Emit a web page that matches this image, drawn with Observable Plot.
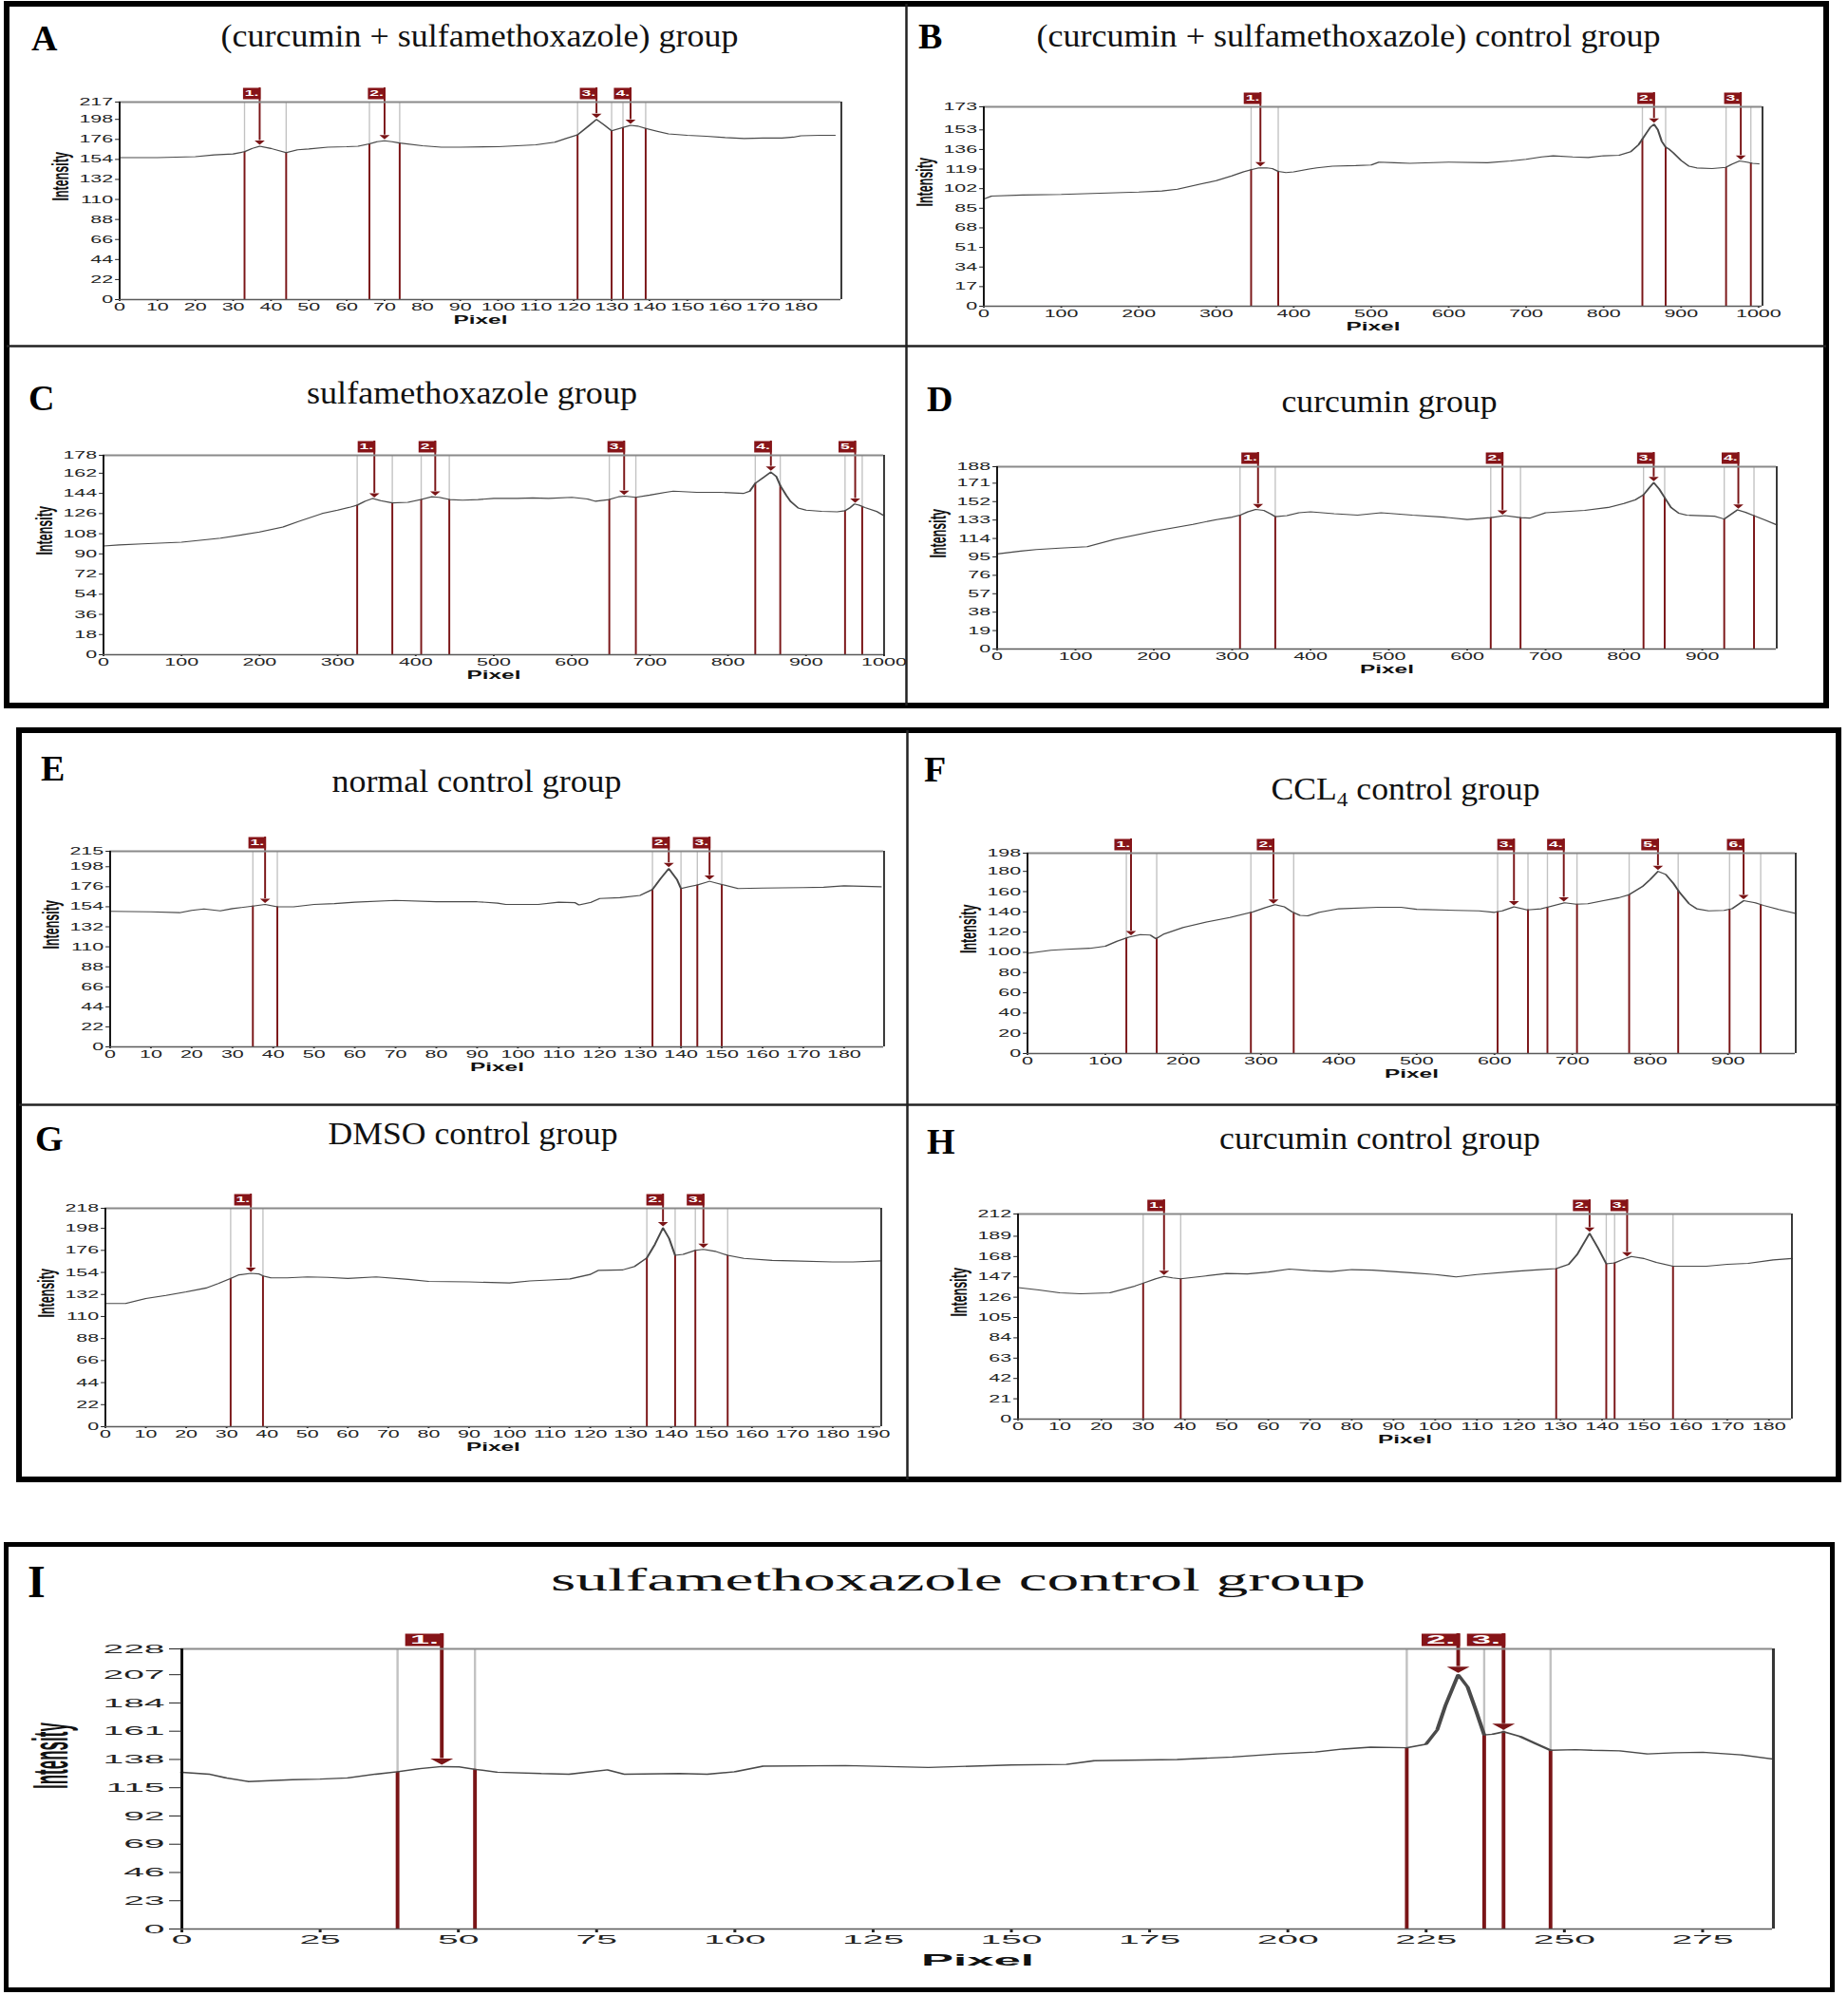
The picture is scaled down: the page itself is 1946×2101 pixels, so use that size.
<!DOCTYPE html>
<html><head><meta charset="utf-8">
<script src="https://cdn.jsdelivr.net/npm/d3@7"></script>
<script src="https://cdn.jsdelivr.net/npm/@observablehq/plot@0.6"></script>
<style>
html,body{margin:0;padding:0;background:#fff;}
#page{position:relative;width:1946px;height:2101px;overflow:hidden;background:#fff;}
.panel{position:absolute;transform-origin:0 0;}
.panel svg{overflow:visible;max-width:none;background:transparent;}
#deco{position:absolute;left:0;top:0;}
</style></head>
<body><div id="page"><svg id="deco" width="1946" height="2101"></svg></div>
<script>
// ---------------- DATA ----------------
// Panel A : (curcumin + sulfamethoxazole) group
const aPx  = [0,10,20,25,30,33,35,37,40,44,47,50,55,60,63,66,68,70,72,74,80,85,90,100,105,110,115,118,121,124,126,128,130,133,135,137,139,142,145,150,155,160,165,170,175,178,180,185,189];
const aInt = [156,156,157,159,160,162.5,166,168.5,166,161.5,164.5,165.5,167.5,168,168.5,171,173.5,174.5,173.5,172,169,167.5,167.5,168,169,170,173,177,181,191,198,192,185.5,189,191.5,190.5,188,185,182,180.5,179.5,178,177,177.5,177.5,178.5,180,180.5,180.5];
const aStart = [33,66,121,133];
const aEnd   = [44,74,130,139];
const aPeak  = [37,70,126,135];
const aYT = [0,22,44,66,88,110,132,154,176,198,217];
const aXT = [0,10,20,30,40,50,60,70,80,90,100,110,120,130,140,150,160,170,180];
const aXMax = 190.7;

// Panel B : (curcumin + sulfamethoxazole) control group
const bPx  = [0,10,50,100,150,200,230,250,280,300,320,335,345,355,365,372,380,390,400,420,430,450,480,500,510,530,550,600,650,680,700,720,735,760,780,800,820,835,845,850,855,860,865,870,875,880,885,890,900,910,920,940,958,965,975,985,992,1000];
const bInt = [93,95.5,96.5,97,98,99,100,101.5,106,109,113,116.5,118.5,120,120,119.5,117,116,116.5,119,120,121.5,122,122.5,125,124.5,124,125,124.5,126,127.5,129.5,130.5,129.5,129,130.5,131,134,140,145,150,155,158,153,143,138,136,133,126.5,121.5,120,119.5,120.5,123,126,125,124,123.5];
const bStart = [345,850,958];
const bEnd   = [380,880,990];
const bPeak  = [357,865,977];
const bYT = [0,17,34,51,68,85,102,119,136,153,173];
const bXT = [0,100,200,300,400,500,600,700,800,900,1000];
const bXMax = 1005;

// Panel C : sulfamethoxazole group
const cPx  = [0,20,50,100,150,200,230,250,280,300,315,325,335,345,355,370,390,400,407,420,430,443,460,480,500,530,550,570,600,620,630,648,660,668,682,700,720,730,760,790,820,828,835,845,855,862,867,875,880,890,900,920,940,950,956,962,968,975,990,1000];
const cInt = [97,98,99,100.5,104,109.5,114,119,126,129,131.5,133.5,137,139.5,137.5,135.5,136,137.5,138.5,141,140.5,138.5,138,138.5,139.5,139.5,140,139.5,140.5,139,137,138.5,141,141.5,140.5,142.5,145,146,145,145,144,146,153,158,163,159,151,142,137,131,129,128,127.5,128.5,131,134.5,133.5,131.5,128,124];
const cStart = [325,407,648,835,950];
const cEnd   = [370,443,682,867,972];
const cPeak  = [347,425,667,855,963];
const cYT = [0,18,36,54,72,90,108,126,144,162,178];
const cXT = [0,100,200,300,400,500,600,700,800,900,1000];
const cXMax = 1000;

// Panel D : curcumin group
const dPx  = [0,30,50,80,115,150,200,250,280,300,310,320,330,340,350,355,370,385,400,430,460,490,530,570,600,630,648,668,680,700,750,780,800,815,825,832,838,845,852,860,870,880,915,928,935,945,955,966,980,995];
const dInt = [98,101,102.5,104,105.5,113,121.5,128.5,133.5,136,138,141.5,144,143,139,136.5,137.5,140.5,141.5,139.5,138,140.5,138,136,133.5,135.5,137.5,135.5,135,140.5,143,146,150,154,159,166,171.5,165,156,146,140,138,137,134,138,143.5,141,137.5,133,128];
const dStart = [310,630,825,928];
const dEnd   = [355,668,852,966];
const dPeak  = [333,645,838,946];
const dYT = [0,19,38,57,76,95,114,133,152,171,188];
const dXT = [0,100,200,300,400,500,600,700,800,900];
const dXMax = 995;

// Panel E : normal control group
const ePx  = [0,10,17,20,23,27,30,35,38,41,45,50,55,60,70,80,90,95,97,105,110,114,115,118,120,125,130,133,135,137,139,140,142,144,147,150,154,160,170,175,180,189];
const eInt = [149,148.5,147.5,150,151.5,149.5,152,154.8,156.5,154,154,156.5,157.5,159,161,159.5,159.5,158,156.5,156.5,159,158.5,156,159,163,164,166.5,173,185,196,184,174,176,178,182,178.5,174,174.5,175,175.5,177,176];
const eStart = [35,133,144];
const eEnd   = [41,140,150];
const ePeak  = [38,137,147];
const eYT = [0,22,44,66,88,110,132,154,176,198,215];
const eXT = [0,10,20,30,40,50,60,70,80,90,100,110,120,130,140,150,160,170,180];
const eXMax = 189.8;

// Panel F : CCL4 control group
const fPx  = [0,30,50,80,100,115,130,145,158,165,175,200,230,260,290,305,318,330,340,350,360,375,400,450,480,500,550,580,600,610,625,642,660,670,690,705,720,740,760,773,790,800,810,820,830,838,850,860,875,895,905,920,935,945,965,987];
const fInt = [99,102,103,104,106,111,115,117.5,117,113.5,118,124.5,130,134.5,140,144,147,145,140,136.5,136,139.5,143,144.5,144.5,142.5,141.5,141,139.5,141,145,142,143,145,149,147.5,148,151,154,157,165,172,180,177,168,159,148,143,141,141.5,143,151,149,146.5,142.5,138.5];
const fStart = [127,287,604,668,773,902];
const fEnd   = [166,342,643,706,836,942];
const fPeak  = [133,316,625,689,810,920];
const fYT = [0,20,40,60,80,100,120,140,160,180,198];
const fXT = [0,100,200,300,400,500,600,700,800,900];
const fXMax = 987;

// Panel G : DMSO control group
const gPx  = [0,5,10,15,20,25,28,31,33,36,38,39,41,45,50,55,60,67,75,80,90,100,105,110,115,120,122,128,131,134,136,138,139.5,141,143,146,148,151,154,158,165,170,180,185,192];
const gInt = [123,123,128,131,134.5,138.5,143,148,151.5,153,152.5,150.5,148.5,148.5,149.5,149,148,149.5,147,145,144.5,143.5,145.5,146.5,147.5,152,156,156.5,160,168.5,182,198.5,188,171,172,176,177,175,171,168,166,165.5,164.5,164.5,165.5];
const gStart = [31,134,146];
const gEnd   = [39,141,154];
const gPeak  = [36,138,148];
const gYT = [0,22,44,66,88,110,132,154,176,198,218];
const gXT = [0,10,20,30,40,50,60,70,80,90,100,110,120,130,140,150,160,170,180,190];
const gXMax = 192;

// Panel H : curcumin control group
const hPx  = [0,5,10,15,22,25,28,30,33,35,37,39,45,50,55,60,65,70,75,80,85,90,95,100,105,110,120,125,129,132,134,137,139,141,143,145,147,150,153,157,165,170,175,181,185.5];
const hInt = [136,133.5,130.5,129.5,130.5,134,137.5,140.5,145,147.5,146,145,148,150.5,150,152,155,153.5,152.5,154.5,154,152.5,151,149.5,147,149.5,153,154.5,155.5,160,170,192,177,160.5,161.5,165,168,166,162,158,158,160,161,164.5,166];
const hStart = [30,129,143];
const hEnd   = [39,141,157];
const hPeak  = [35,137,146];
const hYT = [0,21,42,63,84,105,126,147,168,189,212];
const hXT = [0,10,20,30,40,50,60,70,80,90,100,110,120,130,140,150,160,170,180];
const hXMax = 185.5;

// Panel I : sulfamethoxazole control group
const iPx  = [0,5,8,12,20,25,30,35,39,43,47,50,53,57,65,70,77,80,90,95,100,105,120,135,150,160,165,180,190,198,205,210,215,221.5,225,227,228.5,230.8,232.5,234,235.5,237,239,242,245,247.5,252,255,260,265,270,275,282,287.5];
const iInt = [127.5,126,123,120,121.5,122,123,126,128,130.5,132.2,132,130,127.6,126.5,126,129.5,126,126.5,126,128,132.5,133,131.5,133.5,134,137,138,140,142.5,144,146.5,148,147.5,150.5,162,182,207,197,178,158,158.5,160.5,156.7,150.5,145.5,146,145.5,145,142.5,143.5,143.8,141.7,138.5];
const iStart = [39,221.5,239];
const iEnd   = [53,235.5,247.5];
const iPeak  = [47,230.8,239];
const iYT = [0,23,46,69,92,115,138,161,184,207,228];
const iXT = [0,25,50,75,100,125,150,175,200,225,250,275];
const iXMax = 287.8;

const titleA = "(curcumin + sulfamethoxazole) group";
const titleB = "(curcumin + sulfamethoxazole) control group";
const titleC = "sulfamethoxazole group";
const titleD = "curcumin group";
const titleE = "normal control group";
const titleF = ["CCL", "4", " control group"];
const titleG = "DMSO control group";
const titleH = "curcumin control group";
const titleI = "sulfamethoxazole control group";

// ---------------- LAYOUT & STYLE ----------------
const RED = "#7a1517", BOX = "#861418";
const stAH = {s:1.95, tickFont:11, labelFont:12.5, tickSize:2, tickPad:1.5, boxW:9.5, boxH:12, boxFont:9, gap:3,
  headW:5.5, headH:4.5, headGap:1.5, intDx:-31.8, pixDy:26, curveW:1.1, redW:1, grayW:0.7, padL:100, padR:25, padT:30, padB:50};
const stI = {s:3.0, tickFont:13, labelFont:17, tickSize:4, tickPad:2, boxW:13.5, boxH:13, boxFont:12, gap:3,
  headW:8, headH:6.5, headGap:2, intDx:-45.7, pixDy:39, curveW:1.4, redW:1.3, grayW:0.8, padL:175, padR:25, padT:32, padB:56};

const panels = [
  {k:"A", px:aPx, iy:aInt, start:aStart, end:aEnd, peak:aPeak, yT:aYT, xT:aXT, xMax:aXMax, st:stAH, fL:125, fR:885, fT:107, fB:315,
   title:titleA, tx:505, ty:49, tw:545, lx:33, ly:53},
  {k:"B", px:bPx, iy:bInt, start:bStart, end:bEnd, peak:bPeak, yT:bYT, xT:bXT, xMax:bXMax, st:stAH, fL:1035, fR:1855, fT:112, fB:322,
   title:titleB, tx:1420, ty:49, tw:657, lx:967, ly:51},
  {k:"C", px:cPx, iy:cInt, start:cStart, end:cEnd, peak:cPeak, yT:cYT, xT:cXT, xMax:cXMax, st:stAH, fL:108, fR:930, fT:479, fB:689,
   title:titleC, tx:497, ty:425, tw:348, lx:30, ly:432},
  {k:"D", px:dPx, iy:dInt, start:dStart, end:dEnd, peak:dPeak, yT:dYT, xT:dXT, xMax:dXMax, st:stAH, fL:1049, fR:1870, fT:491, fB:683,
   title:titleD, tx:1463, ty:434, tw:227, lx:976, ly:433},
  {k:"E", px:ePx, iy:eInt, start:eStart, end:eEnd, peak:ePeak, yT:eYT, xT:eXT, xMax:eXMax, st:stAH, fL:115, fR:930, fT:896, fB:1102,
   title:titleE, tx:502, ty:834, tw:305, lx:43, ly:822},
  {k:"F", px:fPx, iy:fInt, start:fStart, end:fEnd, peak:fPeak, yT:fYT, xT:fXT, xMax:fXMax, st:stAH, fL:1081, fR:1890, fT:898, fB:1109,
   title:titleF, tx:1480, ty:842, tw:283, lx:973, ly:823},
  {k:"G", px:gPx, iy:gInt, start:gStart, end:gEnd, peak:gPeak, yT:gYT, xT:gXT, xMax:gXMax, st:stAH, fL:110, fR:927, fT:1272, fB:1502,
   title:titleG, tx:498, ty:1205, tw:305, lx:37, ly:1212},
  {k:"H", px:hPx, iy:hInt, start:hStart, end:hEnd, peak:hPeak, yT:hYT, xT:hXT, xMax:hXMax, st:stAH, fL:1071, fR:1886, fT:1278, fB:1494,
   title:titleH, tx:1453, ty:1210, tw:338, lx:976, ly:1215},
  {k:"I", px:iPx, iy:iInt, start:iStart, end:iEnd, peak:iPeak, yT:iYT, xT:iXT, xMax:iXMax, st:stI, fL:190, fR:1866, fT:1736, fB:2031,
   title:titleI, tx:1009, ty:1675, tw:858, lx:29, ly:1682, lsize:48}
];

// ---------------- HELPERS ----------------
function valueAt(xs, ys, x) {
  const i = d3.bisectRight(xs, x);
  if (i <= 0) return ys[0];
  if (i >= xs.length) return ys[ys.length - 1];
  const x0 = xs[i - 1], x1 = xs[i];
  if (x === x0) return ys[i - 1];
  return ys[i - 1] + (x - x0) / (x1 - x0) * (ys[i] - ys[i - 1]);
}

const page = document.getElementById("page");

function makePanel(P) {
  const st = P.st, s = st.s;
  const yMax = P.yT[P.yT.length - 1];
  const curve = P.px.map((x, i) => ({x, y: P.iy[i]}));
  const bounds = P.start.concat(P.end).map(x => ({x, v: valueAt(P.px, P.iy, x)}));
  const peaks = P.peak.map((x, i) => ({x, v: valueAt(P.px, P.iy, x), n: i + 1}));
  const width = (P.fR - P.fL + st.padL + st.padR) / s;
  const height = P.fB - P.fT + st.padT + st.padB;
  const boxSym = {draw(ctx) { ctx.rect(-st.boxW / 2, -st.boxH / 2, st.boxW, st.boxH); }};
  const headSym = {draw(ctx) { ctx.moveTo(-st.headW / 2, -st.headH); ctx.lineTo(st.headW / 2, -st.headH); ctx.lineTo(0, 0); ctx.closePath(); }};
  const bdx = -st.boxW / 2 + st.redW / 2, bdy = -(st.gap + st.boxH / 2);
  const chart = Plot.plot({
    width, height,
    marginLeft: st.padL / s, marginRight: st.padR / s, marginTop: st.padT, marginBottom: st.padB,
    style: {fontFamily: "'Liberation Sans', Arial, sans-serif", fontSize: st.tickFont + "px", color: "#222", background: "transparent", overflow: "visible"},
    x: {domain: [0, P.xMax], ticks: P.xT, tickSize: st.tickSize, tickPadding: st.tickPad, tickFormat: d => String(d), label: null},
    y: {domain: [0, yMax], ticks: P.yT, tickSize: st.tickSize, tickPadding: st.tickPad, tickFormat: d => String(d), label: null},
    marks: [
      Plot.ruleX(bounds, {x: "x", y1: "v", y2: () => yMax, stroke: "#c2c2c2", strokeWidth: st.grayW}),
      Plot.ruleX(bounds, {x: "x", y1: () => 0, y2: "v", stroke: RED, strokeWidth: st.redW}),
      Plot.line(curve, {x: "x", y: "y", stroke: "#4a4a4a", strokeWidth: st.curveW}),
      Plot.ruleX(peaks, {x: "x", y1: () => yMax, y2: "v", insetTop: -(st.gap + st.boxH), insetBottom: st.headH + st.headGap, stroke: RED, strokeWidth: st.redW}),
      Plot.dot(peaks, {x: "x", y: "v", symbol: headSym, fill: RED, stroke: "none", dy: -st.headGap}),
      Plot.dot(peaks, {x: "x", y: () => yMax, symbol: boxSym, fill: BOX, stroke: "none", dx: bdx, dy: bdy}),
      Plot.text(peaks, {x: "x", y: () => yMax, text: d => d.n + ".", fill: "white", fontSize: st.boxFont, fontWeight: "bold", dx: bdx, dy: bdy}),
      Plot.ruleY([yMax], {stroke: "#8a8a8a", strokeWidth: 2}),
      Plot.ruleY([0], {stroke: "#5a5a5a", strokeWidth: 1.5}),
      Plot.ruleX([P.xMax], {stroke: "#333", strokeWidth: 1}),
      Plot.ruleX([0], {stroke: "#111", strokeWidth: 1}),
      Plot.text(["Intensity"], {text: d => d, frameAnchor: "left", rotate: -90, dx: st.intDx, fontWeight: "bold", fontSize: st.labelFont, fill: "#111"}),
      Plot.text(["Pixel"], {text: d => d, frameAnchor: "bottom", dy: st.pixDy, fontWeight: "bold", fontSize: st.labelFont, fill: "#111"})
    ]
  });
  const div = document.createElement("div");
  div.className = "panel";
  div.style.left = (P.fL - st.padL) + "px";
  div.style.top = (P.fT - st.padT) + "px";
  div.style.width = width + "px";
  div.style.transform = "scaleX(" + s + ")";
  div.appendChild(chart);
  page.appendChild(div);
}

// ---------------- DECORATION (borders, titles) ----------------
const NS = "http://www.w3.org/2000/svg";
const deco = document.getElementById("deco");
function add(tag, attrs, parent = deco) {
  const e = document.createElementNS(NS, tag);
  for (const k in attrs) e.setAttribute(k, attrs[k]);
  parent.appendChild(e);
  return e;
}
// outer boxes
add("rect", {x: 7, y: 4, width: 1916, height: 739, fill: "none", stroke: "#000", "stroke-width": 6});
add("rect", {x: 20, y: 769, width: 1916, height: 789, fill: "none", stroke: "#000", "stroke-width": 6});
add("rect", {x: 6.5, y: 1626.5, width: 1923, height: 469, fill: "none", stroke: "#000", "stroke-width": 5});
// dividers
add("line", {x1: 954.5, y1: 4, x2: 954.5, y2: 743, stroke: "#222", "stroke-width": 2.5});
add("line", {x1: 7, y1: 364.5, x2: 1923, y2: 364.5, stroke: "#222", "stroke-width": 2.5});
add("line", {x1: 955.5, y1: 769, x2: 955.5, y2: 1558, stroke: "#222", "stroke-width": 2.5});
add("line", {x1: 20, y1: 1163.5, x2: 1936, y2: 1163.5, stroke: "#222", "stroke-width": 2.5});

for (const P of panels) {
  const t = add("text", {x: P.tx, y: P.ty, "text-anchor": "middle", "font-family": "'Liberation Serif', 'Times New Roman', serif",
    "font-size": 34, fill: "#111", textLength: P.tw, lengthAdjust: "spacingAndGlyphs"});
  if (Array.isArray(P.title)) {
    const a = add("tspan", {}, t); a.textContent = P.title[0];
    const b = add("tspan", {"font-size": 22, dy: 7}, t); b.textContent = P.title[1];
    const c = add("tspan", {dy: -7}, t); c.textContent = P.title[2];
  } else t.textContent = P.title;
  const L = add("text", {x: P.lx, y: P.ly, "font-family": "'Liberation Serif', 'Times New Roman', serif", "font-weight": "bold",
    "font-size": P.lsize || 38, fill: "#000"});
  L.textContent = P.k;
  makePanel(P);
}
</script>
</body></html>
